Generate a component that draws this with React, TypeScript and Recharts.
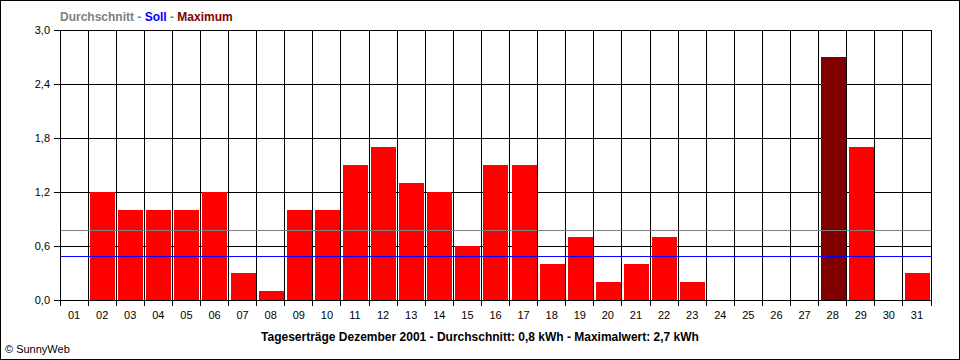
import React from "react";
import {
  ComposedChart,
  Bar,
  Cell,
  XAxis,
  YAxis,
  CartesianGrid,
  ReferenceLine,
} from "recharts";

const days = [
  "01", "02", "03", "04", "05", "06", "07", "08", "09", "10",
  "11", "12", "13", "14", "15", "16", "17", "18", "19", "20",
  "21", "22", "23", "24", "25", "26", "27", "28", "29", "30", "31",
];
const yields = [
  0, 1.2, 1.0, 1.0, 1.0, 1.2, 0.3, 0.1, 1.0, 1.0,
  1.5, 1.7, 1.3, 1.2, 0.6, 1.5, 1.5, 0.4, 0.7, 0.2,
  0.4, 0.7, 0.2, 0, 0, 0, 0, 2.7, 1.7, 0, 0.3,
];
const yTicks = [0, 0.6, 1.2, 1.8, 2.4, 3.0];
const average = 0.772;
const target = 0.483;

const FONT = "'Liberation Sans', Arial, sans-serif";

const data = days.map((day, i) => ({ day, value: yields[i] }));
const maxValue = Math.max(...yields);

const fmt = (v: number) => v.toFixed(1).replace(".", ",");

// day borders, taken from the plot offset the grid gets from recharts
function boundaries({ offset }: any): number[] {
  if (!offset) return [];
  const band = offset.width / days.length;
  return Array.from({ length: days.length + 1 }, (_, i) => offset.left + i * band);
}

// category tick: label in the middle, small tick at left border of the day
function DayTick(props: any) {
  const { x, y, payload, index } = props;
  const half = props.halfBand ?? 0;
  return (
    <g>
      <text
        x={x}
        y={y}
        dy="0.71em"
        textAnchor="middle"
        fontSize={11}
        fontFamily={FONT}
        fill="#000"
      >
        {payload.value}
      </text>
      <line
        x1={x - half}
        x2={x - half}
        y1={y - 11}
        y2={y - 5}
        stroke="#000"
        shapeRendering="crispEdges"
      />
      {index === days.length - 1 && (
        <line
          x1={x + half}
          x2={x + half}
          y1={y - 11}
          y2={y - 5}
          stroke="#000"
          shapeRendering="crispEdges"
        />
      )}
    </g>
  );
}

export default function App() {
  const plotWidth = 960 - 60 - 29;
  const halfBand = plotWidth / days.length / 2;
  return (
    <div
      style={{
        position: "absolute",
        left: 0,
        top: 0,
        width: 960,
        height: 360,
        background: "#fff",
        fontFamily: FONT,
      }}
    >
      <ComposedChart
        width={960}
        height={360}
        data={data}
        margin={{ top: 30, right: 29, bottom: 0, left: 0 }}
      >
        <CartesianGrid
          stroke="#000"
          strokeWidth={1}
          fill="none"
          shapeRendering="crispEdges"
          verticalCoordinatesGenerator={boundaries}
        />
        <XAxis
          dataKey="day"
          tickLine={false}
          axisLine={{ stroke: "#000", shapeRendering: "crispEdges" }}
          tickSize={6}
          tickMargin={5}
          height={60}
          interval={0}
          tick={<DayTick halfBand={halfBand} />}
        />
        <YAxis
          domain={[0, 3]}
          ticks={yTicks}
          tickFormatter={fmt}
          width={60}
          tickSize={6}
          tickMargin={4}
          tickLine={{ stroke: "#000", shapeRendering: "crispEdges" }}
          axisLine={{ stroke: "#000", shapeRendering: "crispEdges" }}
          tick={{ fill: "#000", fontSize: 11, fontFamily: FONT }}
          allowDataOverflow
        />
        <Bar
          dataKey="value"
          barSize={25}
          isAnimationActive={false}
          shapeRendering="crispEdges"
        >
          {data.map((d) => (
            <Cell
              key={d.day}
              fill={d.value === maxValue ? "#800000" : "#FF0000"}
            />
          ))}
        </Bar>
        <ReferenceLine
          y={average}
          stroke="#808080"
          strokeWidth={1}
          strokeOpacity={1}
        />
        <ReferenceLine
          y={target}
          stroke="#0000FF"
          strokeWidth={1}
          strokeOpacity={1}
        />
      </ComposedChart>
      <svg
        width={960}
        height={360}
        style={{ position: "absolute", left: 0, top: 0, pointerEvents: "none" }}
      >
        <rect x={0.5} y={0.5} width={959} height={359} fill="none" stroke="#000" />
        <text x={60} y={21} fontSize={12} fontWeight="bold" fontFamily={FONT}>
          <tspan fill="#808080">Durchschnitt - </tspan>
          <tspan fill="#0000FF">Soll</tspan>
          <tspan fill="#808080"> - </tspan>
          <tspan fill="#800000">Maximum</tspan>
        </text>
        <text
          x={480}
          y={341}
          fontSize={12}
          fontWeight="bold"
          textAnchor="middle"
          fontFamily={FONT}
          fill="#000"
        >
          {`Tageserträge Dezember 2001 - Durchschnitt: ${fmt(0.8)} kWh - Maximalwert: ${fmt(maxValue)} kWh`}
        </text>
        <text x={5} y={353} fontSize={11} fontFamily={FONT} fill="#000">
          © SunnyWeb
        </text>
      </svg>
    </div>
  );
}
